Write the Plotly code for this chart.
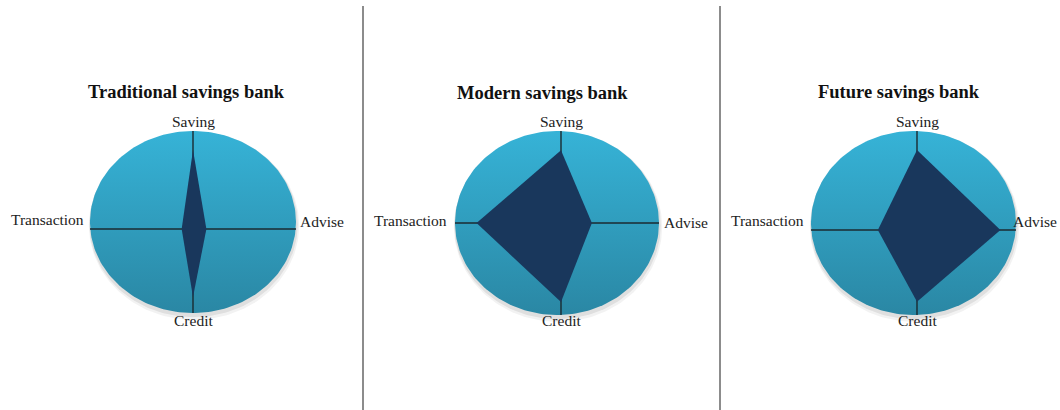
import numpy as np
import plotly.graph_objects as go

# ---------------- data ----------------
titles = ["Traditional savings bank", "Modern savings bank", "Future savings bank"]
axes_labels = ["Saving", "Advise", "Credit", "Transaction"]
traditional = [8.6, 1.3, 7.4, 1.1]
modern = [7.9, 3.0, 8.6, 8.2]
future = [8.7, 8.1, 7.8, 3.8]
series = [traditional, modern, future]

# ---------------- layout constants (pixels) ----------------
W, H = 1060, 410
SX, SY = 10.3, 9.2  # pixels per value unit
panels = [
    dict(dom=(0, 363), c=(193, 229), ell=(90, 296, 131, 313), title=(186, 92),
         lab_y=(121, 221, 320, 219), gapL=5, gapR=3, right_edge=None),
    dict(dom=(364, 720), c=(561, 223), ell=(455, 659, 131, 315), title=(542, 93),
         lab_y=(121, 222, 320, 220), gapL=7, gapR=4, right_edge=None),
    dict(dom=(721, 1060), c=(917, 230), ell=(811, 1016, 131, 315), title=(899, 92),
         lab_y=(121, 221, 320, 220), gapL=6, gapR=1, right_edge=1058),
]
TOP_C = "#36b3d7"
BOT_C = "#2a87a4"
DIAMOND = "#19375c"
LINE_C = "#1b2a30"
SERIF = "Liberation Serif, Times New Roman, serif"

fig = go.Figure()
annotations = []
shapes = []

t = np.linspace(0, 2 * np.pi, 200)

for i, (p, vals) in enumerate(zip(panels, series)):
    xa = "x" if i == 0 else f"x{i+1}"
    ya = "y" if i == 0 else f"y{i+1}"
    cx, cy = p["c"]
    ex0, ex1, ey0, ey1 = p["ell"]
    # ellipse in data units
    ux0, ux1 = (ex0 - cx) / SX, (ex1 - cx) / SX
    uy0, uy1 = (cy - ey1) / SY, (cy - ey0) / SY
    ecx, ecy = (ux0 + ux1) / 2, (uy0 + uy1) / 2
    rx, ry = (ux1 - ux0) / 2, (uy1 - uy0) / 2
    # soft shadow (mostly below)
    for dx, dy, grow, a in [(0.1, -0.4, 0.35, 0.05), (0.05, -0.25, 0.2, 0.08)]:
        fig.add_trace(go.Scatter(
            x=ecx + dx + (rx + grow * 0.6) * np.cos(t), y=ecy + dy + (ry + grow) * np.sin(t),
            mode="lines", fill="toself", fillcolor=f"rgba(0,0,0,{a})",
            line=dict(width=0), hoverinfo="skip", showlegend=False, xaxis=xa, yaxis=ya))
    # ellipse with vertical gradient
    fig.add_trace(go.Scatter(
        x=ecx + rx * np.cos(t), y=ecy + ry * np.sin(t), mode="lines", fill="toself",
        fillgradient=dict(type="vertical", colorscale=[[0, BOT_C], [1, TOP_C]]),
        line=dict(width=0), hoverinfo="skip", showlegend=False, xaxis=xa, yaxis=ya))
    # cross lines
    fig.add_trace(go.Scatter(x=[ux0, ux1], y=[0, 0], mode="lines",
                             line=dict(color=LINE_C, width=1.4), hoverinfo="skip",
                             showlegend=False, xaxis=xa, yaxis=ya))
    fig.add_trace(go.Scatter(x=[0, 0], y=[uy0, uy1], mode="lines",
                             line=dict(color=LINE_C, width=1.4), hoverinfo="skip",
                             showlegend=False, xaxis=xa, yaxis=ya))
    # radar diamond: Saving (up), Advise (right), Credit (down), Transaction (left)
    s, a_, c_, tr = vals
    fig.add_trace(go.Scatter(x=[0, a_, 0, -tr, 0], y=[s, 0, -c_, 0, s], mode="lines",
                             fill="toself", fillcolor=DIAMOND, line=dict(width=0, color=DIAMOND),
                             hoverinfo="skip", showlegend=False, xaxis=xa, yaxis=ya))
    # axes config
    d0, d1 = p["dom"]
    key = "xaxis" if i == 0 else f"xaxis{i+1}"
    keyy = "yaxis" if i == 0 else f"yaxis{i+1}"
    fig.update_layout({
        key: dict(domain=[d0 / W, d1 / W], range=[(d0 - cx) / SX, (d1 - cx) / SX],
                  visible=False, fixedrange=True),
        keyy: dict(domain=[0, 1], range=[(cy - H) / SY, cy / SY], visible=False,
                   fixedrange=True),
    })
    # labels
    ly = p["lab_y"]
    if p["right_edge"] is None:
        adv = (ux1 + p["gapR"] / SX, "left")
    else:
        adv = ((p["right_edge"] - cx) / SX, "right")
    lab_pos = [
        (0, (cy - ly[0]) / SY, "center"),
        (adv[0], (cy - ly[1]) / SY, adv[1]),
        (0, (cy - ly[2]) / SY, "center"),
        (ux0 - p["gapL"] / SX, (cy - ly[3]) / SY, "right"),
    ]
    for lab, (lx, lyy, anc) in zip(axes_labels, lab_pos):
        annotations.append(dict(x=lx, y=lyy, xref=xa, yref=ya, text=lab, showarrow=False,
                                xanchor=anc, yanchor="middle", borderpad=0,
                                font=dict(family=SERIF, size=15.5, color="#222")))
    tx, ty = p["title"]
    annotations.append(dict(x=tx / W, y=1 - ty / H, xref="paper", yref="paper",
                            text=f"<b>{titles[i]}</b>", showarrow=False,
                            xanchor="center", yanchor="middle",
                            font=dict(family=SERIF, size=18.5, color="#111")))

for xs in (363, 720):
    shapes.append(dict(type="line", xref="paper", yref="paper", x0=xs / W, x1=xs / W,
                       y0=0, y1=1 - 6 / H, line=dict(color="#666666", width=1.5)))

fig.update_layout(width=W, height=H, margin=dict(l=0, r=0, t=0, b=0),
                  paper_bgcolor="white", plot_bgcolor="white",
                  annotations=annotations, shapes=shapes, showlegend=False)
fig.write_html("out.html")
